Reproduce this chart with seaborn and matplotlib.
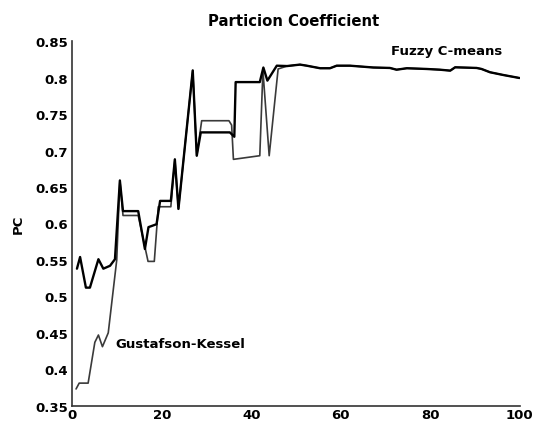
import matplotlib
matplotlib.use("Agg")
import matplotlib.pyplot as plt
import seaborn as sns
import pandas as pd

# ---- data ----
tail_x = [45.7, 48.0, 50.9, 52.4, 55.4, 57.6, 59.1, 62.1, 67.3, 71.0, 72.5, 74.8,
          79.2, 82.2, 84.5, 85.6, 90.4, 91.5, 93.4, 96.4, 100.0]
tail_y = [0.8165, 0.816, 0.818, 0.8165, 0.813, 0.813, 0.8165, 0.8165, 0.814, 0.8134,
          0.811, 0.813, 0.812, 0.811, 0.8097, 0.8143, 0.8134, 0.812, 0.8075, 0.8037, 0.7996]

fcm_x = [1.0, 1.7, 3.0, 3.9, 5.8, 6.9, 8.4, 9.5, 10.6, 11.3, 14.7, 16.2, 17.0, 18.8,
         19.6, 22.0, 22.9, 23.7, 26.9, 27.8, 28.7, 35.2, 36.2, 36.5, 41.9, 42.7, 43.6]
fcm_y = [0.538, 0.554, 0.512, 0.512, 0.551, 0.538, 0.542, 0.551, 0.659, 0.617, 0.617,
         0.565, 0.595, 0.599, 0.631, 0.631, 0.688, 0.620, 0.810, 0.693, 0.725, 0.725,
         0.719, 0.794, 0.794, 0.814, 0.796]

gk_x = [0.8, 1.5, 3.5, 5.0, 5.8, 6.7, 8.0, 9.9, 10.6, 11.3, 14.7, 16.9, 18.3, 19.2,
        22.0, 22.9, 23.7, 26.9, 27.8, 28.9, 35.0, 35.6, 36.0, 41.9, 42.6, 44.0]
gk_y = [0.373, 0.381, 0.381, 0.437, 0.447, 0.431, 0.450, 0.550, 0.659, 0.611, 0.611,
        0.548, 0.548, 0.623, 0.623, 0.688, 0.620, 0.810, 0.693, 0.741, 0.741, 0.735,
        0.688, 0.693, 0.810, 0.693]

title = "Particion Coefficient"
ylabel = "PC"
xticks = [0, 20, 40, 60, 80, 100]
yticks = [0.35, 0.4, 0.45, 0.5, 0.55, 0.6, 0.65, 0.7, 0.75, 0.8, 0.85]
ytick_labels = ["0.35", "0.4", "0.45", "0.5", "0.55", "0.6", "0.65", "0.7", "0.75", "0.8", "0.85"]

fcm = pd.DataFrame({"x": fcm_x + tail_x, "y": fcm_y + tail_y})
gk = pd.DataFrame({"x": gk_x + [46.0] + tail_x[1:], "y": gk_y + [0.812] + tail_y[1:]})

sns.set_style("white")
plt.rcParams["font.family"] = ["DejaVu Sans"]
plt.rcParams["text.color"] = "black"
plt.rcParams["axes.labelcolor"] = "black"

fig = plt.figure(figsize=(5.33, 4.27), dpi=100)
ax = fig.add_axes([0.136, 0.0475, 0.8387, 0.8535])

sns.lineplot(data=gk, x="x", y="y", ax=ax, sort=False, estimator=None,
             color="#3a3a3a", linewidth=1.2)
sns.lineplot(data=fcm, x="x", y="y", ax=ax, sort=False, estimator=None,
             color="#000000", linewidth=1.7)

ax.set_xlim(0, 100)
ax.set_ylim(0.35, 0.85)
ax.set_xticks(xticks)
ax.set_xticklabels([str(t) for t in xticks], fontsize=9.5, fontweight="bold")
ax.set_yticks(yticks)
ax.set_yticklabels(ytick_labels, fontsize=9.5, fontweight="bold")
ax.tick_params(direction="in", length=4, width=1, pad=3, colors="black")
ax.tick_params(axis="x", pad=2)
for s in ["top", "right"]:
    ax.spines[s].set_visible(False)
for s in ["left", "bottom"]:
    ax.spines[s].set_color("#333333")
    ax.spines[s].set_linewidth(1.2)

ax.set_xlabel("")
ax.set_ylabel(ylabel, fontsize=9.5, fontweight="bold", labelpad=8, color="black")
ax.set_title(title, fontsize=10.7, fontweight="bold", pad=12, x=0.4955, color="black")

ax.text(71.3, 0.837, "Fuzzy C-means", fontsize=9.5, fontweight="bold", va="center", ha="left", color="black")
ax.text(9.5, 0.435, "Gustafson-Kessel", fontsize=9.5, fontweight="bold", va="center", ha="left", color="black")

fig.savefig("out.png", dpi=100)
